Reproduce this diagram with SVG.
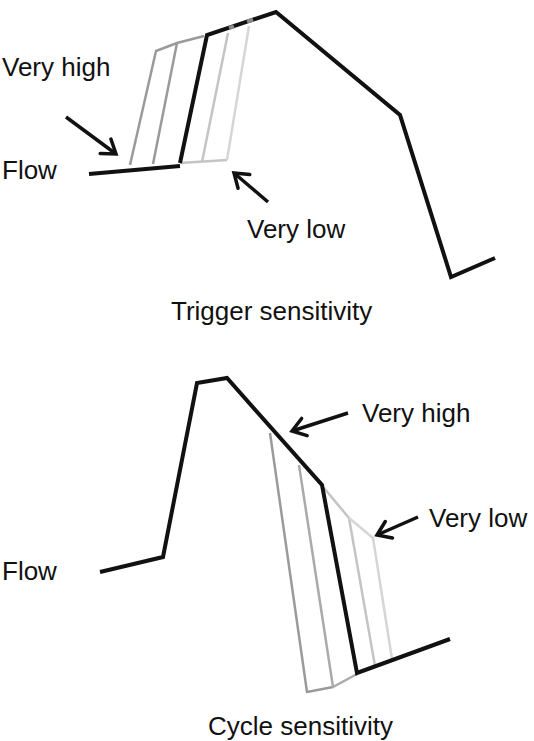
<svg xmlns="http://www.w3.org/2000/svg" width="534" height="741" viewBox="0 0 534 741">
<style>
  text { font-family: "Liberation Sans", Arial, sans-serif; font-size: 26px; fill: #111; }
  .curve { fill: none; stroke: #111; stroke-width: 4; stroke-linejoin: miter; stroke-linecap: butt; }
  .g1 { fill: none; stroke: #9a9a9a; stroke-width: 2.5; stroke-linejoin: round; }
  .g2 { fill: none; stroke: #aaaaaa; stroke-width: 2.5; stroke-linejoin: round; }
  .g3 { fill: none; stroke: #c4c4c4; stroke-width: 2.5; stroke-linejoin: round; }
  .g4 { fill: none; stroke: #d6d6d6; stroke-width: 2.5; stroke-linejoin: round; }
  .arrow { fill: none; stroke: #111; stroke-width: 3.5; marker-end: url(#head); }
</style>
<defs>
  <marker id="head" markerUnits="userSpaceOnUse" markerWidth="32" markerHeight="32" refX="16" refY="16" orient="auto">
    <path d="M3,7 L16,16 L3,25" fill="none" stroke="#111" stroke-width="3.5" stroke-linecap="round" stroke-linejoin="miter"/>
  </marker>
</defs>

<g id="trigger-panel">
  <g id="trigger-gray-curves">
    <polyline class="g1" points="130,165 156,51 177,43"/>
    <polyline class="g1" points="153,164 177,43 204,36"/>
    <polyline class="g3" points="180,163 227,160"/>
    <polyline class="g3" points="202,162 228,33"/>
    <polyline class="g4" points="227,160 249,26"/>
  </g>
  <g id="trigger-curve">
    <polyline class="curve" points="89,174 180,166"/>
    <polyline class="curve" points="180,163 207,35 276,12 400,115 451,277 495,258"/>
    <line x1="229" y1="28" x2="234" y2="26.3" stroke="#888" stroke-width="4"/>
    <line x1="247" y1="21.6" x2="253" y2="19.6" stroke="#888" stroke-width="4"/>
  </g>
  <g id="trigger-connectors">
    <line class="arrow" x1="66" y1="117" x2="116" y2="154"/>
    <line class="arrow" x1="268" y1="202" x2="234" y2="173"/>
  </g>
  <g id="trigger-labels">
    <text x="2" y="76">Very high</text>
    <text x="2" y="179">Flow</text>
    <text x="247" y="238">Very low</text>
    <text x="171" y="320" font-size="26.8">Trigger sensitivity</text>
  </g>
</g>

<g id="cycle-panel">
  <g id="cycle-gray-curves">
    <polyline class="g1" points="270,433 307,692 333,687"/>
    <polyline class="g2" points="299,465 333,687 357,674"/>
    <polyline class="g3" points="324,488 349,518 375,666"/>
    <polyline class="g4" points="349,518 373,538 392,659"/>
  </g>
  <g id="cycle-curve">
    <polyline class="curve" points="100,572 163,557 197,383 227,378 322,485 357,673 450,639"/>
  </g>
  <g id="cycle-connectors">
    <line class="arrow" x1="348" y1="413" x2="292" y2="431"/>
    <line class="arrow" x1="418" y1="517" x2="377" y2="535"/>
  </g>
  <g id="cycle-labels">
    <text x="362" y="422">Very high</text>
    <text x="429" y="527">Very low</text>
    <text x="2" y="580">Flow</text>
    <text x="208" y="735" font-size="25">Cycle sensitivity</text>
  </g>
</g>
</svg>
